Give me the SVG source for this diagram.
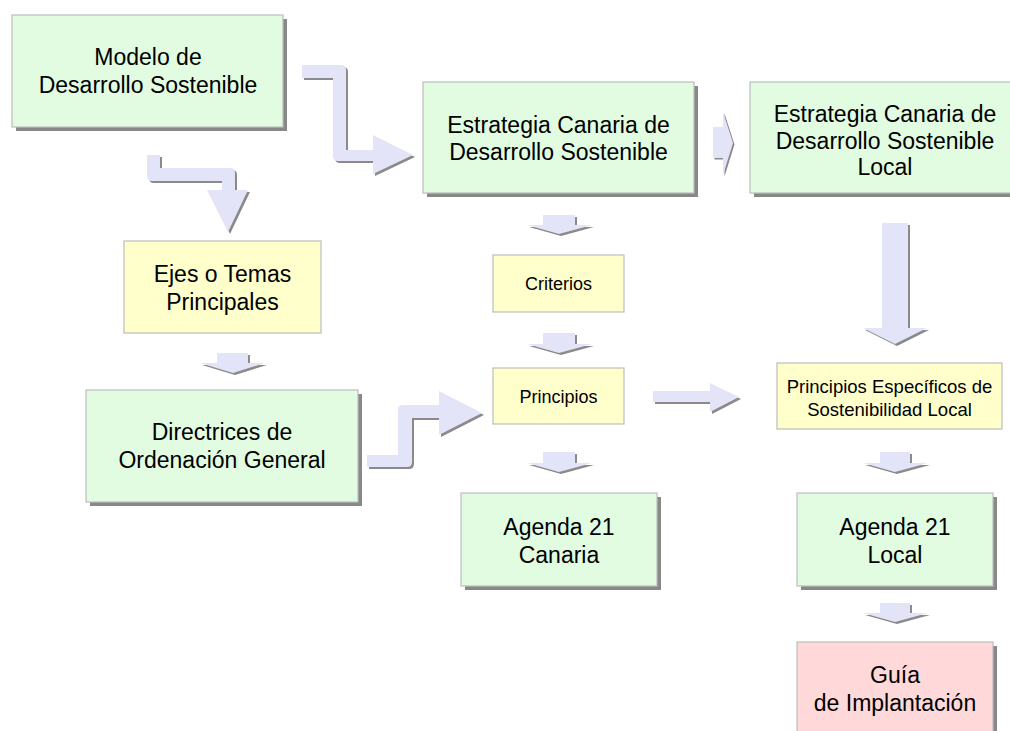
<svg xmlns="http://www.w3.org/2000/svg" width="1010" height="731" viewBox="0 0 1010 731">
<style>
  .g { fill: #E2FCE2; stroke: #BDBDBD; stroke-width: 1.2; }
  .y { fill: #FFFFCC; stroke: #BDBDBD; stroke-width: 1.2; }
  .p { fill: #FFD9D9; stroke: #BDBDBD; stroke-width: 1.2; }
  .sh { fill: #888888; }
  .t { font-family: "Liberation Sans", Arial, sans-serif; font-size: 23px; fill: #000; text-anchor: middle; }
  .s { font-family: "Liberation Sans", Arial, sans-serif; font-size: 18px; fill: #000; text-anchor: middle; }
  .ar { fill: #E4E4F9; }
  .as { fill: #8A8A8A; }
</style>
<rect width="1010" height="731" fill="#FFFFFF"/>

<g id="connectors">
  <!-- Modelo -> Estrategia -->
  <path class="as" transform="translate(2,2)" d="M302,65 H341 Q346,65 346,70 V150 H373 V135 L413,155 L373,174 V161 H338 Q333,161 333,156 V78 H302 Z"/>
  <path class="ar" d="M302,65 H341 Q346,65 346,70 V150 H373 V135 L413,155 L373,174 V161 H338 Q333,161 333,156 V78 H302 Z"/>
  <!-- Modelo -> Ejes -->
  <path class="as" transform="translate(2,2)" d="M147,155 H160 V168 H230 Q235,168 235,173 V190 H248 L228,232 L207,190 H222 V181 H152 Q147,181 147,176 Z"/>
  <path class="ar" d="M147,155 H160 V168 H230 Q235,168 235,173 V190 H248 L228,232 L207,190 H222 V181 H152 Q147,181 147,176 Z"/>
  <!-- Estrategia -> Local -->
  <path class="as" transform="translate(1.5,1.5)" d="M713,127 H723 V112 L733,143 L723,175 V158 H713 Z"/>
  <path class="ar" d="M713,127 H723 V112 L733,143 L723,175 V158 H713 Z"/>
  <!-- Estrategia -> Criterios -->
  <path class="as" transform="translate(2,2)" d="M543,215 H575 V225 H592 L559,234 L527,225 H543 Z"/>
  <path class="ar" d="M543,215 H575 V225 H592 L559,234 L527,225 H543 Z"/>
  <!-- Criterios -> Principios -->
  <path class="as" transform="translate(2,2)" d="M543,333 H575 V344 H592 L559,353 L527,344 H543 Z"/>
  <path class="ar" d="M543,333 H575 V344 H592 L559,353 L527,344 H543 Z"/>
  <!-- Principios -> Agenda Canaria -->
  <path class="as" transform="translate(2,2)" d="M543,452 H575 V463 H592 L559,472 L527,463 H543 Z"/>
  <path class="ar" d="M543,452 H575 V463 H592 L559,472 L527,463 H543 Z"/>
  <!-- Ejes -> Directrices -->
  <path class="as" transform="translate(2,2)" d="M217,353 H248 V363 H265 L233,373 L200,363 H217 Z"/>
  <path class="ar" d="M217,353 H248 V363 H265 L233,373 L200,363 H217 Z"/>
  <!-- Directrices -> Principios -->
  <path class="as" transform="translate(2,2)" d="M367,455 H398 V410 Q398,405 403,405 H439 V391 L482,413 L439,435 V418 H412 V462 Q412,467 407,467 H367 Z"/>
  <path class="ar" d="M367,455 H398 V410 Q398,405 403,405 H439 V391 L482,413 L439,435 V418 H412 V462 Q412,467 407,467 H367 Z"/>
  <!-- Principios -> Principios Especificos -->
  <path class="as" transform="translate(2,2)" d="M653,391 H710 V383 L739,397 L710,412 V402 H653 Z"/>
  <path class="ar" d="M653,391 H710 V383 L739,397 L710,412 V402 H653 Z"/>
  <!-- Local -> Principios Especificos -->
  <path class="as" transform="translate(2,2)" d="M882,223 H908 V328 H927 L895,344 L863,328 H882 Z"/>
  <path class="ar" d="M882,223 H908 V328 H927 L895,344 L863,328 H882 Z"/>
  <!-- Principios Especificos -> Agenda Local -->
  <path class="as" transform="translate(2,2)" d="M880,452 H910 V463 H928 L895,472 L863,463 H880 Z"/>
  <path class="ar" d="M880,452 H910 V463 H928 L895,472 L863,463 H880 Z"/>
  <!-- Agenda Local -> Guia -->
  <path class="as" transform="translate(2,2)" d="M880,603 H910 V613 H928 L895,622 L863,613 H880 Z"/>
  <path class="ar" d="M880,603 H910 V613 H928 L895,622 L863,613 H880 Z"/>
</g>

<g id="modelo">
  <rect class="sh" x="16" y="19" width="271" height="112"/>
  <rect class="g" x="12" y="15" width="271" height="112"/>
  <text class="t" x="148" y="65">Modelo de</text>
  <text class="t" x="148" y="93">Desarrollo Sostenible</text>
</g>

<g id="estrategia">
  <rect class="sh" x="427" y="86" width="271" height="111"/>
  <rect class="g" x="423" y="82" width="271" height="111"/>
  <text class="t" x="558.5" y="132.5">Estrategia Canaria de</text>
  <text class="t" x="558.5" y="160">Desarrollo Sostenible</text>
</g>

<g id="estrategia-local">
  <rect class="sh" x="754" y="86" width="270" height="111"/>
  <rect class="g" x="750" y="82" width="270" height="111"/>
  <text class="t" x="885" y="121.5">Estrategia Canaria de</text>
  <text class="t" x="885" y="148.5">Desarrollo Sostenible</text>
  <text class="t" x="885" y="175">Local</text>
</g>

<g id="ejes">
  <rect class="y" x="124" y="241" width="197" height="92"/>
  <text class="t" x="222.5" y="282">Ejes o Temas</text>
  <text class="t" x="222.5" y="310">Principales</text>
</g>

<g id="criterios">
  <rect class="y" x="493" y="255" width="131" height="57"/>
  <text class="s" x="558.5" y="290">Criterios</text>
</g>

<g id="principios">
  <rect class="y" x="493" y="368" width="131" height="56"/>
  <text class="s" x="558.5" y="403">Principios</text>
</g>

<g id="directrices">
  <rect class="sh" x="90" y="394" width="272" height="112"/>
  <rect class="g" x="86" y="390" width="272" height="112"/>
  <text class="t" x="222" y="440">Directrices de</text>
  <text class="t" x="222" y="468">Ordenación General</text>
</g>

<g id="principios-especificos">
  <rect class="y" x="777" y="363" width="225" height="66"/>
  <text class="s" x="889.5" y="393" style="font-size:18.5px">Principios Específicos de</text>
  <text class="s" x="889.5" y="416" style="font-size:18.5px">Sostenibilidad Local</text>
</g>

<g id="agenda-canaria">
  <rect class="sh" x="465" y="497" width="196" height="93"/>
  <rect class="g" x="461" y="493" width="196" height="93"/>
  <text class="t" x="559" y="535">Agenda 21</text>
  <text class="t" x="559" y="563">Canaria</text>
</g>

<g id="agenda-local">
  <rect class="sh" x="801" y="497" width="196" height="93"/>
  <rect class="g" x="797" y="493" width="196" height="93"/>
  <text class="t" x="895" y="535">Agenda 21</text>
  <text class="t" x="895" y="563">Local</text>
</g>

<g id="guia">
  <rect class="sh" x="801" y="646" width="196" height="100"/>
  <rect class="p" x="797" y="642" width="196" height="100"/>
  <text class="t" x="895" y="683">Guía</text>
  <text class="t" x="895" y="711">de Implantación</text>
</g>
</svg>
